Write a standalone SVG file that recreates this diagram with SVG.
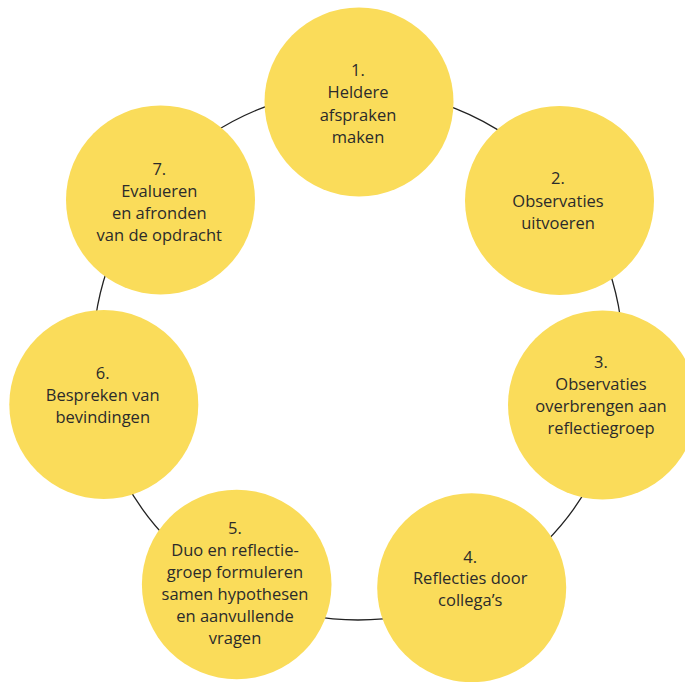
<svg xmlns="http://www.w3.org/2000/svg" width="685" height="682" viewBox="0 0 685 682">
<style>
.ring{fill:none;stroke:#222;stroke-width:1.3}
.node circle{fill:#FADC5A}
.node text{font-family:"Open Sans","Noto Sans",sans-serif;font-size:16.5px;fill:#2b2b2b;text-anchor:middle}
</style>
<rect width="685" height="682" fill="#fff"/>
<g id="connectors">
<circle class="ring" cx="358" cy="355" r="265"/>
</g>
<g id="node1" class="node">
<circle cx="359" cy="102" r="94.5"/>
<text x="358" y="76">1.</text>
<text x="358" y="98.3">Heldere</text>
<text x="358" y="120.5">afspraken</text>
<text x="358" y="142.7">maken</text>
</g>
<g id="node2" class="node">
<circle cx="559.5" cy="200.5" r="94.5"/>
<text x="558" y="184.3">2.</text>
<text x="558" y="206.7">Observaties</text>
<text x="558" y="229">uitvoeren</text>
</g>
<g id="node3" class="node">
<circle cx="602.5" cy="405" r="94.5"/>
<text x="601" y="368.3">3.</text>
<text x="601" y="390.3">Observaties</text>
<text x="601" y="412.3">overbrengen aan</text>
<text x="601" y="434.3">reflectiegroep</text>
</g>
<g id="node4" class="node">
<circle cx="471.7" cy="587.7" r="94.5"/>
<text x="470.2" y="562.7">4.</text>
<text x="470.2" y="584.3">Reflecties door</text>
<text x="470.2" y="605.9">collega’s</text>
</g>
<g id="node5" class="node">
<circle cx="236.7" cy="584.5" r="94.8"/>
<text x="235" y="533.5">5.</text>
<text x="235" y="555.5">Duo en reflectie-</text>
<text x="235" y="577.5">groep formuleren</text>
<text x="235" y="599.5">samen hypothesen</text>
<text x="235" y="621.5">en aanvullende</text>
<text x="235" y="643.5">vragen</text>
</g>
<g id="node6" class="node">
<circle cx="103.8" cy="404.5" r="94.5"/>
<text x="102.7" y="379">6.</text>
<text x="102.7" y="400.8">Bespreken van</text>
<text x="102.7" y="422.7">bevindingen</text>
</g>
<g id="node7" class="node">
<circle cx="160.5" cy="200" r="94.5"/>
<text x="159.3" y="175">7.</text>
<text x="159.3" y="196.8">Evalueren</text>
<text x="159.3" y="218.8">en afronden</text>
<text x="159.3" y="240.7">van de opdracht</text>
</g>
</svg>
